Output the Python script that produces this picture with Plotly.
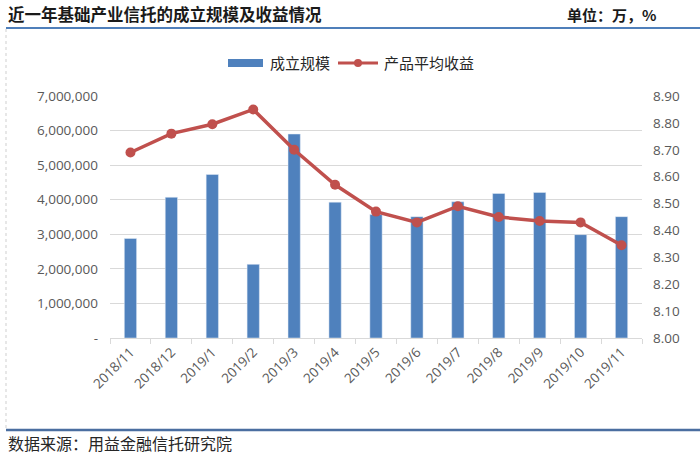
import plotly.graph_objects as go

categories = ["2018/11", "2018/12", "2019/1", "2019/2", "2019/3", "2019/4", "2019/5",
              "2019/6", "2019/7", "2019/8", "2019/9", "2019/10", "2019/11"]
scale_values = [2880000, 4070000, 4730000, 2130000, 5900000, 3930000, 3570000,
                3510000, 3940000, 4180000, 4210000, 2990000, 3510000]
yield_values = [8.69, 8.76, 8.795, 8.85, 8.70, 8.57, 8.47,
                8.43, 8.49, 8.45, 8.435, 8.43, 8.345]
left_tickvals = [0, 1000000, 2000000, 3000000, 4000000, 5000000, 6000000, 7000000]
left_ticktext = ["-", "1,000,000", "2,000,000", "3,000,000", "4,000,000",
                 "5,000,000", "6,000,000", "7,000,000"]
right_tickvals = [8.0, 8.1, 8.2, 8.3, 8.4, 8.5, 8.6, 8.7, 8.8, 8.9]
right_ticktext = ["8.00", "8.10", "8.20", "8.30", "8.40", "8.50", "8.60", "8.70", "8.80", "8.90"]

W, H = 700, 460
L, R, T, B = 110, 642, 96, 338
BLUE = "#4f81bd"
RED = "#c0504d"
TICKC = "#595959"
CJK = "Noto Sans CJK SC"


def px(x):
    return (x - L) / (R - L)


def py(y):
    return (B - y) / (B - T)


fig = go.Figure()
fig.add_trace(go.Bar(x=categories, y=scale_values, name="成立规模",
                     marker=dict(color=BLUE), yaxis="y", showlegend=False))
fig.add_trace(go.Scatter(x=categories, y=yield_values, name="产品平均收益",
                         mode="lines+markers", yaxis="y2",
                         line=dict(color=RED, width=3.5),
                         marker=dict(color=RED, size=10), showlegend=False))

shapes = [
    dict(type="line", xref="paper", yref="paper", x0=px(6), x1=px(700), y0=py(28), y1=py(28),
         line=dict(color="#4f7fba", width=2)),
    dict(type="line", xref="paper", yref="paper", x0=px(6), x1=px(700), y0=py(430), y1=py(430),
         line=dict(color="#4a6ea0", width=2.5)),
    dict(type="line", xref="paper", yref="paper", x0=px(6), x1=px(6), y0=py(29), y1=py(429),
         line=dict(color="#cfcfcf", width=1, dash="dot")),
    # manual legend
    dict(type="rect", xref="paper", yref="paper", x0=px(228), x1=px(263), y0=py(59), y1=py(67),
         fillcolor=BLUE, line=dict(width=0)),
    dict(type="line", xref="paper", yref="paper", x0=px(338), x1=px(378), y0=py(63), y1=py(63),
         line=dict(color=RED, width=3)),
    dict(type="circle", xref="paper", yref="paper", x0=px(354), x1=px(362), y0=py(59), y1=py(67),
         fillcolor=RED, line=dict(width=0)),
]


def ann(text, x, y, size, color="#262626"):
    return dict(text=text, xref="paper", yref="paper", x=px(x), y=py(y),
                xanchor="left", yanchor="middle", align="left", showarrow=False,
                borderpad=0, font=dict(family=CJK, size=size, color=color))


annotations = [
    ann("<b>近一年基础产业信托的成立规模及收益情况</b>", 7, 14, 16.5, "#1a1a1a"),
    ann("<b>单位：万，%</b>", 566, 14, 15, "#1a1a1a"),
    ann("数据来源：用益金融信托研究院", 7, 443, 16),
    ann("成立规模", 269, 63, 15),
    ann("产品平均收益", 383, 63, 15),
]

fig.update_layout(
    width=W, height=H,
    margin=dict(l=L, r=W - R, t=T, b=H - B, pad=0),
    paper_bgcolor="white", plot_bgcolor="white",
    bargap=0.7,
    shapes=shapes, annotations=annotations,
    xaxis=dict(type="category", range=[-0.5, len(categories) - 0.5],
               tickangle=-45, ticks="outside", tickson="boundaries",
               ticklen=5, tickcolor="#d9d9d9", showline=True, linecolor="#d9d9d9",
               linewidth=1, showgrid=False,
               tickfont=dict(family="Open Sans", size=13.5, color=TICKC)),
    yaxis=dict(range=[0, 7000000], tickvals=left_tickvals, ticktext=left_ticktext,
               showgrid=True, gridcolor="#d9d9d9", gridwidth=1, zeroline=False,
               showline=False, ticks="", ticklabelstandoff=11,
               tickfont=dict(family="Open Sans", size=13.5, color=TICKC)),
    yaxis2=dict(range=[8.0, 8.9], tickvals=right_tickvals, ticktext=right_ticktext,
                overlaying="y", side="right", showgrid=False, zeroline=False,
                showline=False, ticks="", ticklabelstandoff=10,
                tickfont=dict(family="Open Sans", size=13.5, color=TICKC)),
    hovermode=False,
)

fig.write_html("out.html", config={"displayModeBar": False},
               post_script="document.body.style.margin='0';document.body.style.padding='0';")
